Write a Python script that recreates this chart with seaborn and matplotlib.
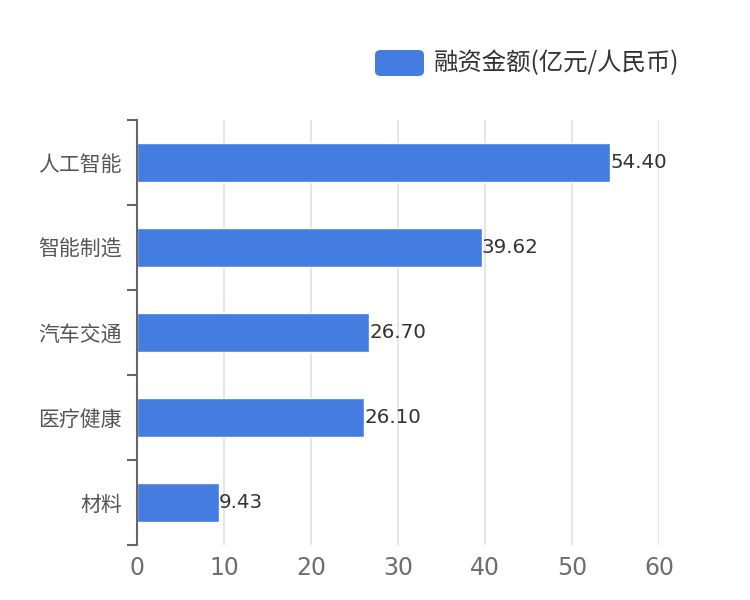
import matplotlib
matplotlib.use("Agg")
import matplotlib.pyplot as plt
import seaborn as sns
import pandas as pd
from matplotlib.patches import FancyBboxPatch

categories = ["人工智能", "智能制造", "汽车交通", "医疗健康", "材料"]
values = [54.40, 39.62, 26.70, 26.10, 9.43]
series_name = "融资金额(亿元/人民币)"
x_ticks = [0, 10, 20, 30, 40, 50, 60]

sns.set_theme(style="white")
plt.rcParams['font.family'] = ['DejaVu Sans', 'Noto Sans CJK SC']

df = pd.DataFrame({"category": categories, "value": values})
bar_color = "#447ce0"

fig = plt.figure(figsize=(7.5, 6), dpi=100)
ax = fig.add_axes([137/750, 1-545/600, (659-137)/750, (545-120)/600])

sns.barplot(data=df, x="value", y="category", color=bar_color, width=0.47,
            saturation=1, ax=ax, orient="h")

ax.set_xlim(0, 60)
ax.set_ylim(4.5, -0.5)
ax.set_xticks(x_ticks)
ax.set_xticklabels([str(t) for t in x_ticks], fontsize=17, color="#6e6e6e")
ax.tick_params(axis="x", length=0, pad=8)
ax.set_xlabel("")
ax.set_ylabel("")
ax.xaxis.grid(True, color="#e0e0e0", linewidth=1.2)
ax.set_axisbelow(True)

for s in ["top", "right", "bottom"]:
    ax.spines[s].set_visible(False)
ax.spines["left"].set_color("#666666")
ax.spines["left"].set_linewidth(1.5)

ax.set_yticks(range(len(categories)))
ax.set_yticklabels(categories, fontsize=15, color="#555555",
                   family=['Noto Sans CJK SC', 'DejaVu Sans'])
ax.tick_params(axis="y", which="major", length=0, pad=11)
ax.set_yticks([i - 0.5 for i in range(len(categories) + 1)], minor=True)
ax.tick_params(axis="y", which="minor", left=True, length=7, width=1.5,
               color="#666666")

for i, v in enumerate(values):
    ax.text(v, i, f"{v:.2f}", va="center", ha="left", fontsize=14.3, color="#333333")

# legend
fig.patches.append(FancyBboxPatch((375/750, 1-76/600), 49/750, 26/600,
                                  boxstyle="round,pad=0,rounding_size=0.008",
                                  transform=fig.transFigure, facecolor=bar_color,
                                  edgecolor="none"))
fig.text(434/750, 1-63/600, series_name, fontsize=17.6, color="#333333",
         va="center", ha="left", family=['Noto Sans CJK SC', 'DejaVu Sans'])

fig.savefig("out.png", dpi=100, facecolor="white")
